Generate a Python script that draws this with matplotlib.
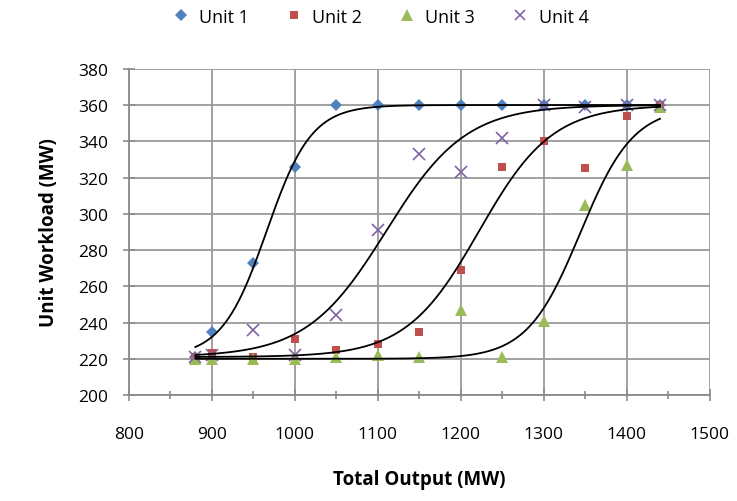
import numpy as np
import matplotlib
matplotlib.use('Agg')
import matplotlib.pyplot as plt

# total output (MW)
total_output = [880, 900, 950, 1000, 1050, 1100, 1150, 1200, 1250, 1300, 1350, 1400, 1440]

# unit workloads (MW)
unit1 = [221, 235, 273, 326, 360, 360, 360, 360, 360, 360, 360, 360, 360]
unit2 = [221, 223, 221, 231, 225, 228, 235, 269, 326, 340, 325, 354, 360]
unit3 = [220, 220, 220, 220, 221, 222, 221, 247, 221, 241, 305, 327, 359]
unit4 = [221, 222, 236, 222, 244, 291, 333, 323, 342, 360, 359, 360, 360]

series = [
    ("Unit 1", unit1, "D", "#4F81BD", 6.5),
    ("Unit 2", unit2, "s", "#C0504D", 6),
    ("Unit 3", unit3, "^", "#9BBB59", 9),
    ("Unit 4", unit4, "x", "#8064A2", 8),
]


def fit_sigmoid(x, y):
    # logistic trend between the min and max of the data, fit x0 and s
    lo, hi = y.min(), y.max()
    best = None
    for x0 in np.arange(900, 1450, 2.0):
        for s in np.arange(10, 90, 1.0):
            pred = lo + (hi - lo) / (1 + np.exp(-(x - x0) / s))
            err = np.sum((pred - y) ** 2)
            if best is None or err < best[0]:
                best = (err, x0, s)
    return lo, hi, best[1], best[2]


plt.rcParams['font.family'] = ['Open Sans', 'DejaVu Sans']

fig = plt.figure(figsize=(7.37, 5.02), dpi=100)
ax = fig.add_axes([0.175, 0.211, 0.788, 0.65])

x = np.array(total_output, dtype=float)
xs = np.linspace(x.min(), x.max(), 300)
for name, vals, mk, col, ms in series:
    ax.plot(x, vals, linestyle="none", marker=mk, color=col, markersize=ms,
            markeredgewidth=1.2 if mk == "x" else 0, label=name, zorder=3)
    lo, hi, x0, s = fit_sigmoid(x, np.array(vals, dtype=float))
    ys = lo + (hi - lo) / (1 + np.exp(-(xs - x0) / s))
    ax.plot(xs, ys, color="black", lw=1.3, zorder=4)

ax.set_xlim(800, 1500)
ax.set_ylim(200, 380)
ax.set_xticks(np.arange(800, 1501, 100))
ax.set_xticks(np.arange(850, 1500, 100), minor=True)
ax.set_yticks(np.arange(200, 381, 20))
ax.grid(True, color="#9a9a9a", lw=1.3)
ax.tick_params(axis="both", which="both", direction="inout", color="#8a8a8a", width=1.2, labelsize=12.5)
ax.tick_params(axis="x", which="major", length=8, pad=18)
ax.tick_params(axis="x", which="minor", length=6)
ax.tick_params(axis="y", which="major", length=8, pad=11)
for s in ["top", "right"]:
    ax.spines[s].set_visible(False)
for s in ["left", "bottom"]:
    ax.spines[s].set_color("#8a8a8a")
    ax.spines[s].set_linewidth(1.3)

ax.set_xlabel("Total Output (MW)", fontsize=13.5, fontweight="bold", labelpad=20)
ax.set_ylabel("Unit Workload (MW)", fontsize=13.5, fontweight="bold", labelpad=14)

fig.legend(loc="upper center", bbox_to_anchor=(0.51, 1.015), ncol=4, frameon=False,
           fontsize=13, handletextpad=0.0, columnspacing=1.5, markerscale=0.9)

fig.savefig("out.png", dpi=100)
